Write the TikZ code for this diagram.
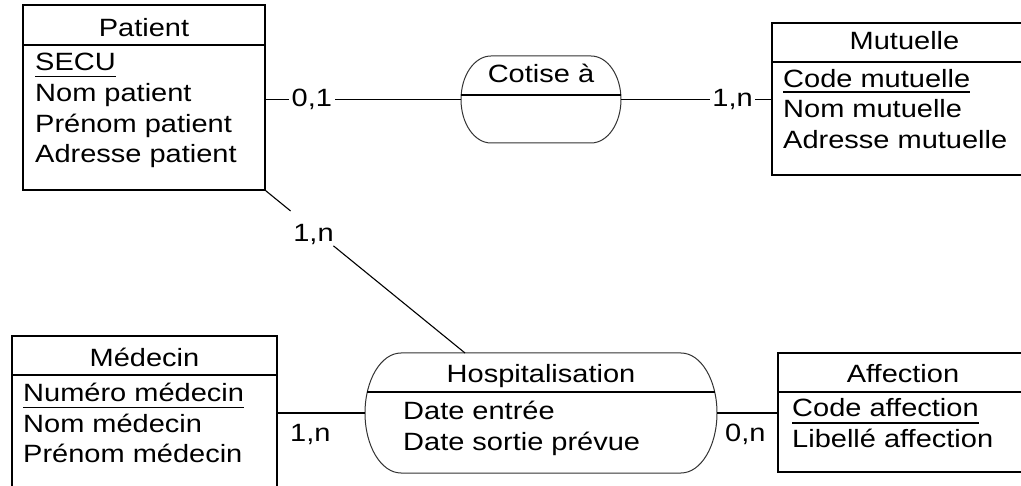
\documentclass[tikz,border=0pt]{standalone}
\usepackage{fontspec}
\setmainfont[FakeStretch=1.16]{Liberation Sans}
\usetikzlibrary{calc}
\begin{document}
\begin{tikzpicture}[x=1pt,y=-1pt,
  every node/.style={inner sep=0pt,font=\fontsize{25}{30}\selectfont},
  txt/.style={anchor=base west},
  ttl/.style={anchor=base},
  entbox/.style={draw,line width=1.3pt,rectangle},
  relbox/.style={draw=none,rectangle},
  reloutline/.style={draw=black!80,line width=1pt},
  conn/.style={line width=1.1pt},
  sep/.style={line width=1.2pt},
  ul/.style={line width=1.3pt},
  lab/.style={fill=white,inner xsep=2.5pt,inner ysep=2pt}]
\useasboundingbox (0,0) rectangle (1021,486);
\clip (0,0) rectangle (1021,486);

% ---- entity boxes
\node[entbox,minimum width=242pt,minimum height=185pt] (patient) at (144,97.5) {};
\node[entbox,minimum width=265pt,minimum height=152pt] (mutuelle) at (904.5,99) {};
\node[entbox,minimum width=265pt,minimum height=184pt] (medecin) at (144.5,428) {};
\node[entbox,minimum width=250pt,minimum height=119pt] (affection) at (903,412.5) {};

% header lines
\draw[sep] (patient.west |- 0,45) -- (patient.east |- 0,45);
\draw[sep] (mutuelle.west |- 0,62) -- (mutuelle.east |- 0,62);
\draw[sep] (medecin.west |- 0,375) -- (medecin.east |- 0,375);
\draw[sep] (affection.west |- 0,392) -- (affection.east |- 0,392);

% ---- relationship shapes
\node[relbox,minimum width=160pt,minimum height=87pt] (cotise) at (541,99.5) {};
\draw[reloutline] (491,56) -- (591,56) arc[start angle=-90,end angle=90,x radius=30,y radius=43.5]
  -- (491,143) arc[start angle=90,end angle=270,x radius=30,y radius=43.5] -- cycle;
\draw[sep] (461.2,95) -- (620.8,95);

\node[relbox,minimum width=352pt,minimum height=120pt] (hosp) at (541,413) {};
\draw[reloutline] (401,353) -- (681,353) arc[start angle=-90,end angle=90,x radius=36,y radius=60]
  -- (401,473) arc[start angle=90,end angle=270,x radius=36,y radius=60] -- cycle;
\draw[sep] (367.3,392) -- (714.7,392);
\coordinate (hosptop) at (465,353);

% ---- texts
\node[ttl] (tpatient) at (144,36.7) {Patient};
\node[txt] (secu) at (35,71) {SECU};
\node[txt] (nompat) at (35,101.7) {Nom patient};
\node[txt] (prenompat) at (35,132.4) {Prénom patient};
\node[txt] (adrpat) at (35,163) {Adresse patient};
\draw[ul] ([yshift=-5.7pt]secu.base west) -- ([yshift=-5.7pt]secu.base east);

\node[ttl] (tmutuelle) at (904.5,50) {Mutuelle};
\node[txt] (codemut) at (783,87.3) {Code mutuelle};
\node[txt] (nommut) at (783,117.8) {Nom mutuelle};
\node[txt] (adrmut) at (783,148.3) {Adresse mutuelle};
\draw[ul] ([yshift=-4.8pt]codemut.base west) -- ([yshift=-4.8pt]codemut.base east);

\node[ttl] (tmedecin) at (144.5,366.7) {Médecin};
\node[txt] (nummed) at (23,401.7) {Numéro médecin};
\node[txt] (nommed) at (23,432.2) {Nom médecin};
\node[txt] (prenommed) at (23,462.8) {Prénom médecin};
\draw[ul] ([yshift=-5.6pt]nummed.base west) -- ([yshift=-5.6pt]nummed.base east);

\node[ttl] (taffection) at (903,383) {Affection};
\node[txt] (codeaff) at (792,417) {Code affection};
\node[txt] (libaff) at (792,448) {Libellé affection};
\draw[ul] ([yshift=-6pt]codeaff.base west) -- ([yshift=-6pt]codeaff.base east);

\node[ttl] (tcotise) at (541,83) {Cotise à};
\node[ttl] (thosp) at (541,383) {Hospitalisation};
\node[txt] (dateent) at (403,420) {Date entrée};
\node[txt] (datesort) at (403,450) {Date sortie prévue};

% ---- connectors
\draw[conn] (patient.east |- cotise.west) -- node[lab,pos=0.237] (c01) {0,1} (cotise.west);
\draw[conn] (cotise.east) -- node[lab,pos=0.742] (c1n) {1,n} (mutuelle.west |- cotise.east);

\draw[conn] (patient.south east) -- ($(patient.south east)!0.125!(hosptop)$);
\draw[conn] ($(patient.south east)!0.34!(hosptop)$) -- (hosptop);
\node[ttl] (d1n) at (313.5,241.7) {1,n};

\draw[conn] (medecin.east |- hosp.west) -- node[pos=0.375,below=10.7pt] (m1n) {1,n} (hosp.west);
\draw[conn] (hosp.east) -- node[pos=0.467,below=10.7pt] (a0n) {0,n} (affection.west |- hosp.east);
\end{tikzpicture}
\end{document}
